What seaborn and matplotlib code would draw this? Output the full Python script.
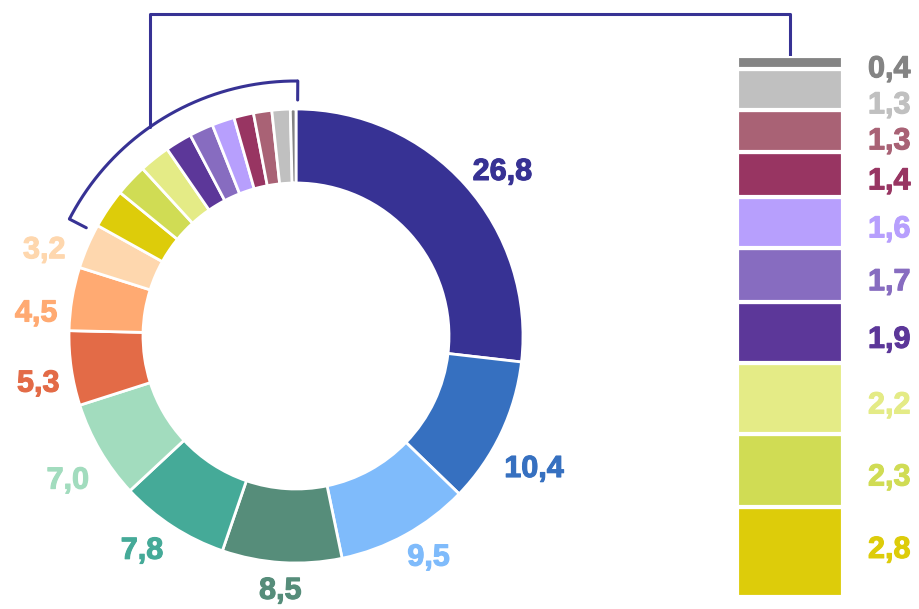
import numpy as np
import matplotlib.pyplot as plt
import matplotlib.patheffects as pe
import seaborn as sns

# donut slices, clockwise from 12 o'clock
main_values = [26.8, 10.4, 9.5, 8.5, 7.8, 7.0, 5.3, 4.5, 3.2]
main_colors = ["#373294", "#3670C0", "#7FBBFB", "#568D7A", "#45AA98",
               "#A2DCBE", "#E36B47", "#FFAA72", "#FED7AE"]

# small slices, also shown in the stacked bar (bottom -> top)
small_values = [2.8, 2.3, 2.2, 1.9, 1.7, 1.6, 1.4, 1.3, 1.3, 0.4]
small_colors = ["#DDCC0A", "#D0DC54", "#E4EB86", "#5C3799", "#876CC0",
                "#B79FFD", "#983562", "#A96275", "#C0C0C0", "#848484"]

bracket_color = "#373294"

# hand nudges (px, right / down) of the donut labels from the radial spot
label_nudge = [(9, 9), (-1, 17), (5, -13), (1, -12), (-10, -10),
               (0, 8), (4, 7), (1, 18), (-9, 16)]


def fmt(v):
    return f"{v:.1f}".replace(".", ",")


sns.set_theme(style="white")
plt.rcParams["font.family"] = ["Liberation Sans", "DejaVu Sans"]

FS = 22
digit_mid = 0.358 * FS * 100 / 72  # px from baseline to middle of digits

W, H = 919, 609
fig = plt.figure(figsize=(W / 100, H / 100), dpi=100)
ax = fig.add_axes([0, 0, 1, 1])

cx, cy, R = 296, H - 336, 227
all_values = main_values + small_values
palette = sns.color_palette(main_colors + small_colors)

wedges, _ = ax.pie(
    all_values, colors=palette, startangle=90, counterclock=False,
    center=(cx, cy), radius=R,
    wedgeprops=dict(width=74, edgecolor="white", linewidth=2),
)
ax.set_xlim(0, W)
ax.set_ylim(0, H)
ax.set_aspect("equal")
ax.axis("off")

# value labels around the main slices
for w, v, c, (dx, dy) in zip(wedges, main_values, main_colors, label_nudge):
    ang = np.deg2rad((w.theta1 + w.theta2) / 2)
    x = cx + 1.165 * R * np.cos(ang) + dx
    y = cy + 1.165 * R * np.sin(ang) - dy
    ax.text(x, y - digit_mid, fmt(v), color=c, fontsize=FS, fontweight="bold",
            ha="center", va="baseline",
            path_effects=[pe.withStroke(linewidth=0.8, foreground=c)])

# bracket over the small slices
span = 360 * sum(small_values) / sum(all_values)
r_arc, r_tick = 255, 236
theta = np.deg2rad(np.linspace(89.6, 90 + span + 1.8, 200))
ax.plot(cx + r_arc * np.cos(theta), cy + r_arc * np.sin(theta),
        color=bracket_color, lw=2.2, solid_capstyle="butt")
for t in (theta[0], theta[-1]):
    ax.plot([cx + r_arc * np.cos(t), cx + r_tick * np.cos(t)],
            [cy + r_arc * np.sin(t), cy + r_tick * np.sin(t)],
            color=bracket_color, lw=2.2)

# stacked bar of the small slices
bx0, bx1, by0, by1 = 737, 843, 12, 553
bax = fig.add_axes([bx0 / W, by0 / H, (bx1 - bx0) / W, (by1 - by0) / H])
bottoms = np.concatenate([[0], np.cumsum(small_values)[:-1]])
bax.bar(0, small_values, bottom=bottoms, width=1, color=small_colors,
        edgecolor="white", linewidth=3)
bax.set_xlim(-0.5, 0.5)
bax.set_ylim(0, sum(small_values))
bax.axis("off")

upp = sum(small_values) / (by1 - by0)  # data units per pixel
prev = None
for v, b, c in zip(small_values[::-1], bottoms[::-1], small_colors[::-1]):
    y = b + v / 2 - 4 * upp
    if prev is not None:
        y = min(y, prev - 36 * upp)
    y = max(y, 50 * upp)
    prev = y
    bax.text(0.5 + 25 / (bx1 - bx0), y - digit_mid * upp, fmt(v), color=c,
             fontsize=FS, fontweight="bold", ha="left", va="baseline",
             clip_on=False,
             path_effects=[pe.withStroke(linewidth=0.8, foreground=c)])

# connector from the bracket to the bar
x_line = 150
y_arc = cy + np.sqrt(r_arc ** 2 - (x_line - cx) ** 2)
x_bar = (bx0 + bx1) / 2
ax.plot([x_line, x_line, x_bar, x_bar], [y_arc, H - 14, H - 14, H - 58],
        color=bracket_color, lw=2.2)

fig.savefig("out.png", dpi=100)
